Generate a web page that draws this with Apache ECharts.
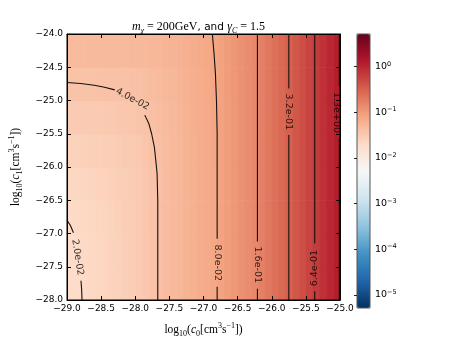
<!DOCTYPE html>
<html><head><meta charset="utf-8">
<script src="https://cdn.jsdelivr.net/npm/echarts@6/dist/echarts.min.js"></script>
<style>html,body{margin:0;padding:0;background:#fff}#c{width:457px;height:343px}</style>
</head><body><div id="c"></div>
<script>
// ---- data ----
// cell centres along log10(c0)
const xCenters = [-28.95,-28.85,-28.75,-28.65,-28.55,-28.45,-28.35,-28.25,-28.15,-28.05,
  -27.95,-27.85,-27.75,-27.65,-27.55,-27.45,-27.35,-27.25,-27.15,-27.05,
  -26.95,-26.85,-26.75,-26.65,-26.55,-26.45,-26.35,-26.25,-26.15,-26.05,
  -25.95,-25.85,-25.75,-25.65,-25.55,-25.45,-25.35,-25.25,-25.15,-25.05];
// cell centres along log10(c1)
const yCenters = [-27.75,-27.25,-26.75,-26.25,-25.75,-25.25,-24.75,-24.25];
// estimated cell values, one row per yCenter (bottom to top)
const row0 = [0.0189,0.0197,0.0206,0.0214,0.0223,0.0235,0.0247,0.026,0.0276,0.0294,0.0316,0.0342,0.0373,0.0406,0.044,0.0476,0.0516,0.0559,0.0605,0.0656,0.071,0.0769,0.0847,0.0951,0.107,0.12,0.135,0.151,0.173,0.203,0.237,0.278,0.326,0.389,0.465,0.555,0.665,0.806,0.977,1.18];
const row1 = [0.0194,0.0201,0.0209,0.0218,0.0226,0.0237,0.025,0.0262,0.0278,0.0295,0.0317,0.0343,0.0374,0.0406,0.044,0.0476,0.0516,0.0559,0.0605,0.0656,0.071,0.0769,0.0847,0.0951,0.107,0.12,0.135,0.151,0.173,0.203,0.237,0.278,0.326,0.389,0.465,0.555,0.665,0.806,0.977,1.18];
const row2 = [0.0204,0.0211,0.0218,0.0225,0.0233,0.0243,0.0255,0.0267,0.0281,0.0298,0.0319,0.0345,0.0376,0.0408,0.0442,0.0477,0.0516,0.0559,0.0605,0.0656,0.071,0.0769,0.0847,0.0951,0.107,0.12,0.135,0.151,0.173,0.203,0.237,0.278,0.326,0.389,0.465,0.555,0.665,0.806,0.977,1.18];
const row3 = [0.0224,0.0229,0.0235,0.0241,0.0247,0.0256,0.0266,0.0276,0.029,0.0305,0.0325,0.035,0.0379,0.0411,0.0444,0.0479,0.0518,0.0561,0.0606,0.0656,0.071,0.0769,0.0847,0.0951,0.107,0.12,0.135,0.151,0.173,0.203,0.237,0.278,0.326,0.389,0.465,0.555,0.665,0.806,0.977,1.18];
const row4 = [0.0258,0.0262,0.0265,0.027,0.0274,0.0281,0.0288,0.0297,0.0308,0.0321,0.0338,0.0361,0.0388,0.0418,0.0449,0.0483,0.0522,0.0564,0.0609,0.0659,0.0712,0.0771,0.0847,0.0951,0.107,0.12,0.135,0.151,0.173,0.203,0.237,0.278,0.326,0.389,0.465,0.555,0.665,0.806,0.977,1.18];
const row5 = [0.031,0.0311,0.0314,0.0316,0.0319,0.0323,0.0329,0.0334,0.0342,0.0352,0.0365,0.0384,0.0407,0.0433,0.0462,0.0494,0.053,0.057,0.0614,0.0663,0.0715,0.0773,0.085,0.0953,0.107,0.12,0.135,0.151,0.173,0.203,0.237,0.278,0.326,0.389,0.465,0.555,0.665,0.806,0.977,1.18];
const row6 = [0.0381,0.0382,0.0383,0.0384,0.0386,0.0388,0.0391,0.0395,0.04,0.0406,0.0415,0.0428,0.0445,0.0465,0.0489,0.0516,0.0549,0.0585,0.0626,0.0673,0.0723,0.078,0.0855,0.0957,0.107,0.12,0.135,0.151,0.173,0.203,0.237,0.278,0.326,0.389,0.465,0.555,0.665,0.806,0.977,1.18];
const row7 = [0.0472,0.0472,0.0473,0.0474,0.0475,0.0476,0.0478,0.048,0.0482,0.0486,0.0491,0.0499,0.051,0.0524,0.0541,0.0562,0.0588,0.0618,0.0653,0.0695,0.0742,0.0794,0.0866,0.0965,0.108,0.121,0.135,0.151,0.173,0.203,0.237,0.278,0.326,0.389,0.465,0.555,0.665,0.806,0.977,1.18];
const valueRows = [row0,row1,row2,row3,row4,row5,row6,row7];

// contour lines (segments broken where labels sit), in data coordinates
const contour020 = [[[-29,-26.8],[-28.95,-26.88],[-28.905,-26.99]],[[-28.795,-27.71],[-28.785,-27.85],[-28.78,-28]]];
const contour040 = [[[-29,-24.73],[-28.8,-24.745],[-28.6,-24.77],[-28.45,-24.8],[-28.3,-24.84]],
  [[-27.86,-25.22],[-27.8,-25.35],[-27.76,-25.5],[-27.72,-25.7],[-27.7,-25.89],[-27.68,-26.1],[-27.67,-26.5],[-27.67,-28]]];
const contour080 = [[[-26.87,-24],[-26.845,-24.3],[-26.825,-24.6],[-26.81,-25],[-26.8,-25.5],[-26.8,-27.08]],[[-26.8,-27.8],[-26.8,-28]]];
const contour160 = [[[-26.21,-24],[-26.21,-27.12]],[[-26.21,-27.83],[-26.21,-28]]];
const contour320 = [[[-25.75,-24],[-25.75,-24.82]],[[-25.75,-25.52],[-25.75,-28]]];
const contour640 = [[[-25.37,-24],[-25.37,-27.15]],[[-25.37,-27.87],[-25.37,-28]]];
const contour1300 = [[[-25.01,-24],[-25.01,-24.79]],[[-25.01,-25.57],[-25.01,-28]]];
const contourLines = [contour020,contour040,contour080,contour160,contour320,contour640,contour1300];
const labelTexts = ['2.0e-02','4.0e-02','8.0e-02','1.6e-01','3.2e-01','6.4e-01','1.3e+00'];
const labelX = [-28.845,-28.04,-26.8,-26.21,-25.75,-25.37,-25.045];
const labelY = [-27.36,-24.98,-27.44,-27.47,-25.17,-27.52,-25.18];
const labelRot = [-81,-28,-90,-90,-90,90,-90];

// axis ticks
const cbTicks = [-5,-4,-3,-2,-1,0];
const cbMin = -5.29, cbMax = 0.716;

// ---- styles ----
const cellW = 0.1, cellH = 0.5;
const FONT = 'DejaVu Sans';
const SERIF = 'Liberation Serif';
const rdbu_r = ['#053061','#2166ac','#4393c3','#92c5de','#d1e5f0','#f7f7f7','#fddbc7','#f4a582','#d6604d','#b2182b','#67001f'];
const fmt = v => (v < 0 ? '\u2212' : '') + Math.abs(v).toFixed(1);

const heat = [];
yCenters.forEach((y, j) => xCenters.forEach((x, i) => {
  heat.push([x, y, Math.log10(valueRows[j][i])]);
}));

const mathRich = {
  r: {fontFamily: SERIF, fontSize: 11.5, color: '#000', lineHeight: 16},
  i: {fontFamily: SERIF, fontStyle: 'italic', fontSize: 11.5, color: '#000', lineHeight: 16},
  s: {fontFamily: SERIF, fontSize: 8, color: '#000', lineHeight: 8, verticalAlign: 'bottom'},
  si: {fontFamily: SERIF, fontStyle: 'italic', fontSize: 8, color: '#000', lineHeight: 8, verticalAlign: 'bottom'},
  p: {fontFamily: SERIF, fontSize: 8, color: '#000', lineHeight: 8, verticalAlign: 'top'},
  a: {fontFamily: FONT, fontSize: 10.5, color: '#000', lineHeight: 16}
};

const series = [{
  type: 'custom',
  xAxisIndex: 0, yAxisIndex: 0,
  data: heat,
  encode: {x: 0, y: 1},
  clip: true, silent: true, z: 1,
  renderItem: (params, api) => {
    const x = api.value(0), y = api.value(1);
    const p0 = api.coord([x - cellW / 2, y + cellH / 2]);
    const p1 = api.coord([x + cellW / 2, y - cellH / 2]);
    return {type: 'rect', shape: {x: p0[0], y: p0[1], width: p1[0] - p0[0] + 0.6, height: p1[1] - p0[1] + 0.6},
      style: {fill: api.visual('color')}};
  }
}];
contourLines.forEach(c => c.forEach(seg => series.push({
  type: 'line', xAxisIndex: 0, yAxisIndex: 0, data: seg, symbol: 'none', showSymbol: false,
  lineStyle: {color: '#111', width: 1.1}, z: 3, silent: true, clip: true, animation: false
})));
series.push({
  type: 'scatter', xAxisIndex: 0, yAxisIndex: 0, symbolSize: 1, z: 4, silent: true,
  itemStyle: {color: 'rgba(0,0,0,0)'},
  label: {show: true, position: 'inside', formatter: '{b}', fontFamily: FONT, fontSize: 9.5, color: '#000'},
  data: labelTexts.map((t, k) => ({name: t, value: [labelX[k], labelY[k]], label: {rotate: labelRot[k]}}))
});

const baseX = {type: 'value', min: -29, max: -25, interval: 0.5, z: 10, splitLine: {show: false},
  axisLine: {show: true, onZero: false, lineStyle: {color: '#000', width: 1}},
  axisTick: {inside: true, length: 4, lineStyle: {color: '#000'}}};
const baseY = {type: 'value', min: -28, max: -24, interval: 0.5, z: 10, splitLine: {show: false},
  axisLine: {show: true, onZero: false, lineStyle: {color: '#000', width: 1}},
  axisTick: {inside: true, length: 4, lineStyle: {color: '#000'}}};

const option = {
  animation: false,
  backgroundColor: '#fff',
  grid: [
    {left: 57, top: 34, width: 283, height: 274, show: true, borderColor: '#000', borderWidth: 1, z: 10, backgroundColor: 'transparent'},
    {left: 357, top: 34, width: 13, height: 274, show: true, borderColor: '#555', borderWidth: 1, z: 10, backgroundColor: 'transparent'}
  ],
  xAxis: [
    Object.assign({}, baseX, {gridIndex: 0, position: 'bottom',
      axisLabel: {formatter: fmt, fontFamily: FONT, fontSize: 9, color: '#000', margin: 4, showMinLabel: true, showMaxLabel: true},
      name: '{r|log}{s|10}{r|(}{i|c}{s|0}{r|[cm}{p|3}{r|s}{p|\u22121}{r|])}',
      nameLocation: 'middle', nameGap: 22, nameTextStyle: {rich: mathRich}}),
    Object.assign({}, baseX, {gridIndex: 0, position: 'top', axisLabel: {show: false}}),
    {gridIndex: 1, type: 'value', min: 0, max: 1, show: false}
  ],
  yAxis: [
    Object.assign({}, baseY, {gridIndex: 0, position: 'left',
      axisLabel: {formatter: fmt, fontFamily: FONT, fontSize: 9, color: '#000', margin: 4, showMinLabel: true, showMaxLabel: true},
      name: '{r|log}{s|10}{r|(}{i|c}{s|1}{r|[cm}{p|3}{r|s}{p|\u22121}{r|])}',
      nameLocation: 'middle', nameRotate: 90, nameGap: 43, nameTextStyle: {rich: mathRich}}),
    Object.assign({}, baseY, {gridIndex: 0, position: 'right', axisLabel: {show: false}}),
    {gridIndex: 1, type: 'value', min: cbMin, max: cbMax, position: 'right', z: 10,
      splitLine: {show: false}, axisLine: {show: false},
      axisTick: {show: true, inside: true, length: 3, customValues: cbTicks, lineStyle: {color: '#222'}},
      axisLabel: {customValues: cbTicks, margin: 5, fontFamily: FONT, fontSize: 9.5, color: '#000', lineHeight: 12,
        formatter: v => '10{p|' + (v < 0 ? '\u2212' : '') + Math.abs(Math.round(v)) + '}',
        rich: {p: {fontFamily: FONT, fontSize: 6.5, lineHeight: 7, verticalAlign: 'top', color: '#000'}}}}
  ],
  visualMap: {
    type: 'continuous', min: cbMin, max: cbMax, dimension: 2, seriesIndex: 0,
    inRange: {color: rdbu_r}, left: 357, top: 34, itemWidth: 13, itemHeight: 274,
    calculable: false, text: null, padding: 0, orient: 'vertical', hoverLink: false, realtime: false
  },
  graphic: [{
    type: 'text', x: 198.5, y: 27, z: 20,
    style: {text: '{i|m}{si|\u03c7}{r| = 200GeV}{a|, and }{i|\u03b3}{si|C}{r| = 1.5}',
      rich: Object.assign({}, mathRich, {
        r: {fontFamily: SERIF, fontSize: 12, color: '#000', lineHeight: 16},
        i: {fontFamily: SERIF, fontStyle: 'italic', fontSize: 12, color: '#000', lineHeight: 16}}),
      align: 'center', verticalAlign: 'middle'}
  }],
  series: series
};
const chart = echarts.init(document.getElementById('c'));
chart.setOption(option);
</script></body></html>
